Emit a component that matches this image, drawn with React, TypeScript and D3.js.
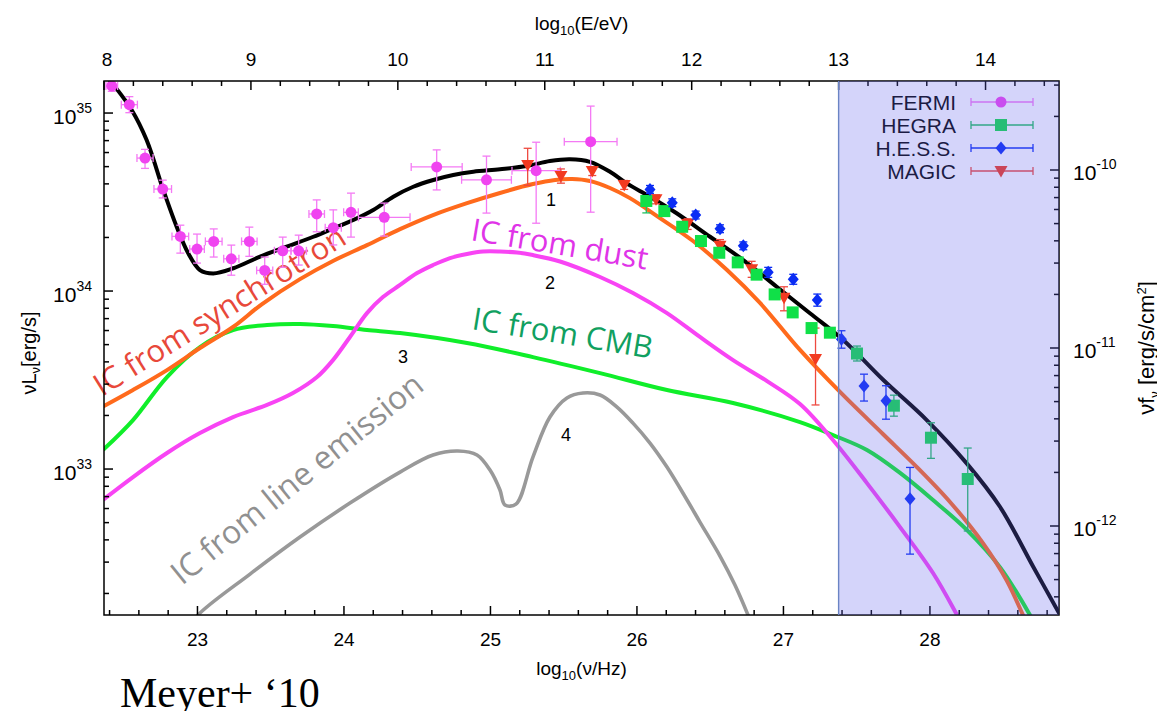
import React from "react";
import * as d3 from "d3";

const W = 1157, H = 711;
const PL = 104, PR = 1059, PT = 81, PB = 615;

const nuDomain: [number, number] = [22.362, 28.881];
const eDomain: [number, number] = [8, 14.5];
const lumDomain: [number, number] = [32.18, 35.18];
const fluxDomain: [number, number] = [-12.5, -9.5];

const nuTicks = [23, 24, 25, 26, 27, 28];
const eTicks = [8, 9, 10, 11, 12, 13, 14];
const lumTicks = [33, 34, 35];
const fluxTicks = [-12, -11, -10];
const shadeStartE = 13;

// model curves: [log10(nu/Hz), log10(nuLnu)]
const totalModel: [number, number][] = [
  [22.376, 35.208], [22.437, 35.148], [22.551, 35.017], [22.653, 34.848], [22.767, 34.567],
  [22.858, 34.361], [22.937, 34.212], [23.017, 34.118], [23.108, 34.099], [23.245, 34.128],
  [23.427, 34.193], [23.609, 34.249], [23.791, 34.305], [23.927, 34.352], [24.064, 34.399],
  [24.2, 34.455], [24.337, 34.53], [24.473, 34.586], [24.61, 34.624], [24.746, 34.652],
  [24.883, 34.67], [25.065, 34.684], [25.247, 34.702], [25.406, 34.73], [25.543, 34.74],
  [25.679, 34.726], [25.816, 34.67], [25.93, 34.605], [26.089, 34.53], [26.271, 34.437],
  [26.499, 34.305], [26.726, 34.174], [26.954, 34.024], [27.181, 33.875], [27.408, 33.725],
  [27.682, 33.5], [27.978, 33.275], [28.251, 33.032], [28.478, 32.788], [28.705, 32.451],
  [28.881, 32.191],
];
const icSynchrotron: [number, number][] = [
  [22.362, 33.354], [22.56, 33.444], [22.792, 33.556], [23.017, 33.68], [23.243, 33.798],
  [23.441, 33.927], [23.7, 34.067], [23.925, 34.169], [24.157, 34.258], [24.383, 34.348],
  [24.608, 34.427], [24.84, 34.494], [25.065, 34.551], [25.29, 34.601], [25.441, 34.624],
  [25.557, 34.629], [25.679, 34.618], [25.816, 34.579], [25.952, 34.522], [26.157, 34.41],
  [26.383, 34.281], [26.615, 34.118], [26.84, 33.933], [27.113, 33.669], [27.386, 33.433],
  [27.679, 33.197], [27.911, 33.011], [28.137, 32.815], [28.362, 32.584], [28.526, 32.371],
  [28.635, 32.18], [28.683, 32.096],
];
const icDust: [number, number][] = [
  [22.362, 32.831], [22.56, 32.955], [22.792, 33.09], [23.017, 33.202], [23.243, 33.292],
  [23.475, 33.36], [23.652, 33.427], [23.816, 33.517], [23.925, 33.612], [24.041, 33.742],
  [24.157, 33.876], [24.266, 33.966], [24.383, 34.034], [24.499, 34.101], [24.608, 34.146],
  [24.724, 34.185], [24.84, 34.208], [24.949, 34.222], [25.065, 34.222], [25.181, 34.216],
  [25.29, 34.202], [25.475, 34.166], [25.748, 34.079], [25.973, 33.989], [26.205, 33.876],
  [26.43, 33.742], [26.656, 33.612], [26.888, 33.494], [27.113, 33.365], [27.338, 33.163],
  [27.57, 32.921], [27.796, 32.674], [28.021, 32.416], [28.185, 32.18], [28.239, 32.096],
];
const icCmb: [number, number][] = [
  [22.362, 33.112], [22.56, 33.275], [22.792, 33.517], [23.017, 33.685], [23.243, 33.781],
  [23.475, 33.809], [23.7, 33.815], [23.925, 33.803], [24.157, 33.781], [24.383, 33.764],
  [24.84, 33.708], [25.29, 33.629], [25.748, 33.539], [26.205, 33.444], [26.656, 33.371],
  [27.113, 33.264], [27.338, 33.191], [27.57, 33.107], [27.796, 32.978], [28.021, 32.826],
  [28.253, 32.657], [28.478, 32.449], [28.683, 32.18], [28.738, 32.096],
];
const icLine: [number, number][] = [
  [22.935, 32.096], [23.004, 32.18], [23.359, 32.41], [23.7, 32.618], [24.041, 32.809],
  [24.383, 32.983], [24.608, 33.079], [24.778, 33.101], [24.908, 33.079], [24.997, 32.994],
  [25.065, 32.882], [25.099, 32.798], [25.174, 32.803], [25.29, 33.067], [25.406, 33.292],
  [25.522, 33.399], [25.632, 33.427], [25.748, 33.416], [25.864, 33.348], [25.973, 33.258],
  [26.089, 33.146], [26.205, 33.011], [26.342, 32.826], [26.43, 32.702], [26.567, 32.511],
  [26.669, 32.348], [26.758, 32.18], [26.799, 32.096],
];

// data: [log nu, log nuLnu, dx (dex), err up (dex), err down (dex)]
const fermi: number[][] = [
  [22.415, 35.152, 0.04, 0.03, 0.03], [22.535, 35.047, 0.055, 0.045, 0.045],
  [22.642, 34.747, 0.055, 0.049, 0.058], [22.763, 34.573, 0.06, 0.05, 0.05],
  [22.883, 34.307, 0.057, 0.063, 0.094], [22.997, 34.236, 0.05, 0.084, 0.079],
  [23.111, 34.279, 0.057, 0.07, 0.088], [23.231, 34.181, 0.052, 0.077, 0.092],
  [23.354, 34.279, 0.053, 0.08, 0.084], [23.459, 34.116, 0.055, 0.075, 0.078],
  [23.582, 34.226, 0.057, 0.077, 0.092], [23.691, 34.226, 0.053, 0.088, 0.08],
  [23.814, 34.433, 0.053, 0.079, 0.1], [23.927, 34.356, 0.055, 0.1, 0.097],
  [24.048, 34.442, 0.05, 0.108, 0.139], [24.275, 34.414, 0.176, 0.08, 0.105],
  [24.633, 34.697, 0.174, 0.096, 0.129], [24.973, 34.625, 0.17, 0.133, 0.187],
  [25.312, 34.676, 0.165, 0.16, 0.295], [25.684, 34.839, 0.18, 0.2, 0.396],
];
// [log nu, log nuLnu, err up, err down]
const magic: number[][] = [
  [25.254, 34.708, 0.094, 0.114], [25.481, 34.646, 0.04, 0.04], [25.695, 34.674, 0.025, 0.025],
  [25.913, 34.596, 0.025, 0.025], [26.13, 34.515, 0.025, 0.025], [26.346, 34.376, 0.03, 0.03],
  [26.567, 34.254, 0.035, 0.035], [26.783, 34.122, 0.045, 0.045], [27.004, 33.962, 0.062, 0.073],
  [27.219, 33.618, 0.174, 0.258],
];
const hess: number[][] = [
  [26.089, 34.571, 0.022, 0.022], [26.241, 34.496, 0.022, 0.022], [26.401, 34.427, 0.022, 0.022],
  [26.567, 34.35, 0.022, 0.022], [26.726, 34.254, 0.022, 0.022], [26.896, 34.105, 0.028, 0.028],
  [27.067, 34.066, 0.028, 0.028], [27.231, 33.949, 0.034, 0.034], [27.396, 33.729, 0.048, 0.05],
  [27.55, 33.466, 0.067, 0.084], [27.7, 33.384, 0.084, 0.104], [27.864, 32.833, 0.176, 0.311],
];
const hegra: number[][] = [
  [26.064, 34.506, 0.017, 0.067], [26.187, 34.449, 0.017, 0.017], [26.309, 34.361, 0.017, 0.017],
  [26.437, 34.281, 0.017, 0.017], [26.562, 34.215, 0.017, 0.017], [26.688, 34.161, 0.017, 0.017],
  [26.817, 34.092, 0.017, 0.017], [26.94, 33.981, 0.017, 0.017], [27.063, 33.88, 0.017, 0.017],
  [27.192, 33.792, 0.017, 0.017], [27.317, 33.766, 0.017, 0.017], [27.502, 33.649, 0.042, 0.042],
  [27.754, 33.356, 0.059, 0.059], [28.007, 33.176, 0.084, 0.116], [28.258, 32.944, 0.174, 0.292],
];

const legendNames = ["FERMI", "HEGRA", "H.E.S.S.", "MAGIC"];
const curveNumbers = [
  { t: "1", nu: 25.413, l: 34.511 },
  { t: "2", nu: 25.406, l: 34.045 },
  { t: "3", nu: 24.403, l: 33.629 },
  { t: "4", nu: 25.516, l: 33.191 },
];

const C = {
  black: "#000000",
  orange: "#ff6a1c",
  magenta: "#f844f4",
  green: "#10ee2a",
  gray: "#999999",
  fermi: "#f044f0",
  fermiBar: "#f47af4",
  hegra: "#10e048",
  hegraBar: "#20c060",
  hess: "#0a2cf4",
  magic: "#f23a20",
  magicBar: "#ee4a40",
};

const x = d3.scaleLinear().domain(nuDomain).range([PL, PR]);
const xE = d3.scaleLinear().domain(eDomain).range([PL, PR]);
const y = d3.scaleLinear().domain(lumDomain).range([PB, PT]);
const yF = d3.scaleLinear().domain(fluxDomain).range([PB, PT]);

const line = d3
  .line<[number, number]>()
  .x((d) => x(d[0]))
  .y((d) => y(d[1]))
  .curve(d3.curveCatmullRom.alpha(0.5));

function logMinor(domain: [number, number]) {
  const out: number[] = [];
  for (let d = Math.floor(domain[0]) - 1; d <= Math.ceil(domain[1]); d++) {
    for (let k = 2; k <= 9; k++) {
      const v = d + Math.log10(k);
      if (v > domain[0] && v < domain[1]) out.push(v);
    }
  }
  return out;
}
function linMinor(domain: [number, number]) {
  const out: number[] = [];
  for (let v = Math.ceil(domain[0] * 5) / 5; v < domain[1]; v += 0.2) {
    const r = Math.round(v * 5) / 5;
    if (Math.abs(r - Math.round(r)) > 1e-6) out.push(r);
  }
  return out;
}

const TF = "'Liberation Sans', Arial, sans-serif";
const LF = "'Open Sans', 'Noto Sans', sans-serif";

export default function App() {
  const shadeX = xE(shadeStartE);
  const legY = [102, 125, 148, 171];
  const legX0 = 971, legX1 = 1033, legXm = 1001;

  const diamond = (cx: number, cy: number) =>
    `M${cx},${cy - 6.5} L${cx + 5.5},${cy} L${cx},${cy + 6.5} L${cx - 5.5},${cy} Z`;
  const tri = (cx: number, cy: number) =>
    `M${cx - 6.5},${cy - 5} L${cx + 6.5},${cy - 5} L${cx},${cy + 6.5} Z`;

  const vbar = (cx: number, yTop: number, yBot: number, color: string, key: string) => (
    <g key={key} stroke={color} strokeWidth={1.3}>
      <line x1={cx} x2={cx} y1={yTop} y2={yBot} />
      <line x1={cx - 4} x2={cx + 4} y1={yTop} y2={yTop} />
      <line x1={cx - 4} x2={cx + 4} y1={yBot} y2={yBot} />
    </g>
  );

  return (
    <svg
      width={W}
      height={H}
      style={{ position: "absolute", left: 0, top: 0, background: "#fff" }}
      fontFamily={TF}
    >
      <defs>
        <clipPath id="plot">
          <rect x={PL} y={PT} width={PR - PL} height={PB - PT} />
        </clipPath>
      </defs>

      <g clipPath="url(#plot)" fill="none" strokeLinejoin="round" strokeLinecap="round">
        <path d={line(icLine) || ""} stroke={C.gray} strokeWidth={3.6} />
        <path d={line(icCmb) || ""} stroke={C.green} strokeWidth={4} />
        <path d={line(icDust) || ""} stroke={C.magenta} strokeWidth={4} />
        <path d={line(icSynchrotron) || ""} stroke={C.orange} strokeWidth={4} />
        <path d={line(totalModel) || ""} stroke={C.black} strokeWidth={4} />
      </g>

      {/* curve labels */}
      <g fontFamily={LF} fontSize={31}>
        <text transform="translate(102,397) rotate(-32)" fill="#e8483a">IC from synchrotron</text>
        <text transform="translate(470,240) rotate(9.5)" fill="#e034e8">IC from dust</text>
        <text transform="translate(471,329) rotate(9.3)" fill="#10a060">IC from CMB</text>
        <text transform="translate(182,586) rotate(-39)" fill="#909090" fontSize={32}>IC from line emission</text>
      </g>
      <g fontSize={18} fill="#000" textAnchor="middle">
        {curveNumbers.map((n) => (
          <text key={n.t} x={x(n.nu)} y={y(n.l) + 6}>{n.t}</text>
        ))}
      </g>

      {/* data */}
      <g clipPath="url(#plot)">
        {fermi.map((d, i) => {
          const cx = x(d[0]), cy = y(d[1]);
          const x0 = x(d[0] - d[2]), x1 = x(d[0] + d[2]);
          const yt = y(d[1] + d[3]), yb = y(d[1] - d[4]);
          return (
            <g key={"f" + i} stroke={C.fermiBar} strokeWidth={1.3}>
              <line x1={x0} x2={x1} y1={cy} y2={cy} />
              <line x1={x0} x2={x0} y1={cy - 4} y2={cy + 4} />
              <line x1={x1} x2={x1} y1={cy - 4} y2={cy + 4} />
              <line x1={cx} x2={cx} y1={yt} y2={yb} />
              <line x1={cx - 4} x2={cx + 4} y1={yt} y2={yt} />
              <line x1={cx - 4} x2={cx + 4} y1={yb} y2={yb} />
              <circle cx={cx} cy={cy} r={5.5} fill={C.fermi} stroke="none" />
            </g>
          );
        })}
        {magic.map((d, i) => {
          const cx = x(d[0]), cy = y(d[1]);
          return (
            <g key={"m" + i}>
              {vbar(cx, y(d[1] + d[2]), y(d[1] - d[3]), C.magicBar, "mb" + i)}
              <path d={tri(cx, cy)} fill={C.magic} />
            </g>
          );
        })}
        {hegra.map((d, i) => {
          const cx = x(d[0]), cy = y(d[1]);
          return (
            <g key={"g" + i}>
              {vbar(cx, y(d[1] + d[2]), y(d[1] - d[3]), C.hegraBar, "gb" + i)}
              <rect x={cx - 6} y={cy - 6} width={12} height={12} fill={C.hegra} />
            </g>
          );
        })}
        {hess.map((d, i) => {
          const cx = x(d[0]), cy = y(d[1]);
          return (
            <g key={"h" + i}>
              {vbar(cx, y(d[1] + d[2]), y(d[1] - d[3]), C.hess, "hb" + i)}
              <path d={diamond(cx, cy)} fill={C.hess} />
            </g>
          );
        })}
      </g>

      {/* legend */}
      <g fontSize={21} fill="#000" textAnchor="end">
        {legendNames.map((n, i) => {
          const cy = legY[i];
          const col = [C.fermiBar, C.hegraBar, C.hess, C.magicBar][i];
          return (
            <g key={n}>
              <text x={956} y={cy + 7.5}>{n}</text>
              <g stroke={col} strokeWidth={1.3}>
                <line x1={legX0} x2={legX1} y1={cy} y2={cy} />
                <line x1={legX0} x2={legX0} y1={cy - 4} y2={cy + 4} />
                <line x1={legX1} x2={legX1} y1={cy - 4} y2={cy + 4} />
              </g>
              {i === 0 && <circle cx={legXm} cy={cy} r={5.5} fill={C.fermi} />}
              {i === 1 && <rect x={legXm - 6} y={cy - 6} width={12} height={12} fill={C.hegra} />}
              {i === 2 && <path d={diamond(legXm, cy)} fill={C.hess} />}
              {i === 3 && <path d={tri(legXm, cy)} fill={C.magic} />}
            </g>
          );
        })}
      </g>

      {/* frame and ticks */}
      <g stroke="#000" strokeWidth={1.5} fill="none">
        <rect x={PL} y={PT} width={PR - PL} height={PB - PT} />
        {nuTicks.map((t) => (
          <line key={"bt" + t} x1={x(t)} x2={x(t)} y1={PB} y2={PB - 9} />
        ))}
        {linMinor(nuDomain).map((t) => (
          <line key={"bm" + t} x1={x(t)} x2={x(t)} y1={PB} y2={PB - 5} />
        ))}
        {eTicks.map((t) => (
          <line key={"tt" + t} x1={xE(t)} x2={xE(t)} y1={PT} y2={PT + 9} />
        ))}
        {linMinor(eDomain).map((t) => (
          <line key={"tm" + t} x1={xE(t)} x2={xE(t)} y1={PT} y2={PT + 5} />
        ))}
        {lumTicks.map((t) => (
          <line key={"lt" + t} x1={PL} x2={PL + 9} y1={y(t)} y2={y(t)} />
        ))}
        {logMinor(lumDomain).map((t) => (
          <line key={"lm" + t} x1={PL} x2={PL + 5} y1={y(t)} y2={y(t)} />
        ))}
        {fluxTicks.map((t) => (
          <line key={"rt" + t} x1={PR} x2={PR - 9} y1={yF(t)} y2={yF(t)} />
        ))}
        {logMinor(fluxDomain).map((t) => (
          <line key={"rm" + t} x1={PR} x2={PR - 5} y1={yF(t)} y2={yF(t)} />
        ))}
      </g>

      {/* shaded region overlay */}
      <rect
        x={shadeX}
        y={PT}
        width={PR - shadeX}
        height={PB - PT}
        fill="rgb(100,100,237)"
        fillOpacity={0.28}
      />
      <line x1={shadeX} x2={shadeX} y1={PT} y2={PB} stroke="#6a84c4" strokeWidth={1.4} />

      {/* tick labels */}
      <g fontSize={19} fill="#000" textAnchor="middle">
        {nuTicks.map((t) => (
          <text key={"bl" + t} x={x(t)} y={646}>{t}</text>
        ))}
        {eTicks.map((t) => (
          <text key={"tl" + t} x={xE(t) + (t === 8 ? 3 : 0)} y={66}>{t}</text>
        ))}
      </g>
      <g fill="#000">
        {lumTicks.map((t) => (
          <text key={"ll" + t} x={92} y={y(t) + 11} textAnchor="end" fontSize={21}>
            10<tspan fontSize={14} dy={-11}>{t}</tspan>
          </text>
        ))}
        {fluxTicks.map((t) => (
          <text key={"rl" + t} x={1073} y={yF(t) + 10} fontSize={21}>
            10<tspan fontSize={14} dy={-11}>{t}</tspan>
          </text>
        ))}
      </g>

      {/* axis titles */}
      <text x={(PL + PR) / 2} y={30} textAnchor="middle" fontSize={19} fill="#000">
        log<tspan fontSize={13} dy={5}>10</tspan>
        <tspan dy={-5}>(E/eV)</tspan>
      </text>
      <text x={(PL + PR) / 2} y={675} textAnchor="middle" fontSize={19} fill="#000">
        log<tspan fontSize={13} dy={5}>10</tspan>
        <tspan dy={-5}>(ν/Hz)</tspan>
      </text>
      <text transform="translate(36,353) rotate(-90)" textAnchor="middle" fontSize={20} fill="#000">
        νL<tspan fontSize={13} dy={4}>ν</tspan>
        <tspan dy={-4}>[erg/s]</tspan>
      </text>
      <text transform="translate(1154,348) rotate(-90)" textAnchor="middle" fontSize={22} fill="#000">
        νf<tspan fontSize={13} dy={5}>ν</tspan>
        <tspan dy={-5}> [erg/s/cm</tspan>
        <tspan fontSize={13} dy={-8}>2</tspan>
        <tspan dy={8}>]</tspan>
      </text>

      <text x={120} y={707} fontFamily="'Liberation Serif', 'Times New Roman', serif" fontSize={42} fill="#000">
        Meyer+ ‘10
      </text>
    </svg>
  );
}
